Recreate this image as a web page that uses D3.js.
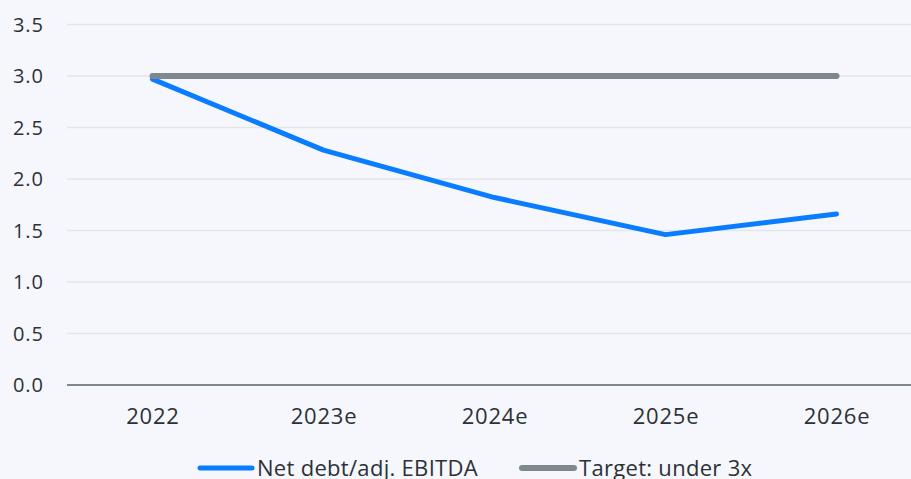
<!DOCTYPE html>
<html>
<head>
<meta charset="utf-8">
<script src="https://cdn.jsdelivr.net/npm/d3@7"></script>
<style>
  html, body { margin: 0; padding: 0; background: #f5f7fc; }
  svg { display: block; font-family: "Open Sans", sans-serif; }
</style>
</head>
<body>
<svg id="chart" width="911" height="479"></svg>
<script>
const years = ['2022', '2023e', '2024e', '2025e', '2026e']
const netDebt = [2.97, 2.28, 1.82, 1.46, 1.66]
const target = [3, 3, 3, 3, 3]
const yTicks = [0, 0.5, 1, 1.5, 2, 2.5, 3, 3.5]

const series = [
  { name: 'Net debt/adj. EBITDA', values: netDebt, color: '#0a7cff', width: 5 },
  { name: 'Target: under 3x', values: target, color: '#7e888e', width: 6 }
]

const chartWidth = 911,
  plotLeft = 67,
  plotTop = 24.5,
  plotBottom = 385,
  textColor = '#2c3136'

const svg = d3.select('#chart')

const x = d3.scalePoint()
    .domain(years)
    .range([ plotLeft, 922 ])
    .padding(0.5)

const y = d3.scaleLinear()
    .domain([ 0, 3.5 ])
    .range([ plotBottom, plotTop ])

// gridlines
svg.append('g')
  .selectAll('line')
  .data(yTicks.slice(1))
  .enter().append('line')
    .attr('x1', plotLeft)
    .attr('x2', chartWidth)
    .attr('y1', d => y(d))
    .attr('y2', d => y(d))
    .style('stroke', '#e3e5ea')
    .style('stroke-width', 1.5)

// y axis labels
svg.append('g')
  .selectAll('text')
  .data(yTicks)
  .enter().append('text')
    .attr('x', 44)
    .attr('y', d => y(d))
    .attr('dy', '0.35em')
    .attr('text-anchor', 'end')
    .style('font-size', '20px')
    .style('letter-spacing', '1px')
    .style('fill', textColor)
    .text(d => d.toFixed(1))

// x axis
let xAxis = svg.append('g')
    .attr('transform', `translate(0,${ plotBottom })`)
    .call(d3.axisBottom(x).tickSize(0).tickPadding(23))

xAxis.select('.domain')
    .attr('d', `M${ plotLeft },0H${ chartWidth }`)
    .style('stroke', '#7e888e')
    .style('stroke-width', 2)

xAxis.selectAll('text')
    .style('font-size', '22px')
    .style('letter-spacing', '0.8px')
    .style('font-family', '"Open Sans", sans-serif')
    .style('fill', textColor)

const line = d3.line()
    .x((d, i) => x(years[i]))
    .y(d => y(d))

svg.append('g')
  .selectAll('path')
  .data(series)
  .enter().append('path')
    .attr('d', d => line(d.values))
    .style('fill', 'none')
    .style('stroke', d => d.color)
    .style('stroke-width', d => d.width)
    .style('stroke-linecap', 'round')
    .style('stroke-linejoin', 'round')

// legend
const legendX = [ 198, 520 ]
let legend = svg.append('g')
  .selectAll('g')
  .data(series)
  .enter().append('g')
    .attr('transform', (d, i) => `translate(${ legendX[i] },468)`)

legend.append('line')
    .attr('x1', 2)
    .attr('x2', 54)
    .style('stroke', d => d.color)
    .style('stroke-width', d => d.width)
    .style('stroke-linecap', 'round')

legend.append('text')
    .attr('x', 59)
    .attr('dy', '0.37em')
    .style('font-size', '22px')
    .style('letter-spacing', '0.3px')
    .style('fill', textColor)
    .text(d => d.name)
</script>
</body>
</html>
